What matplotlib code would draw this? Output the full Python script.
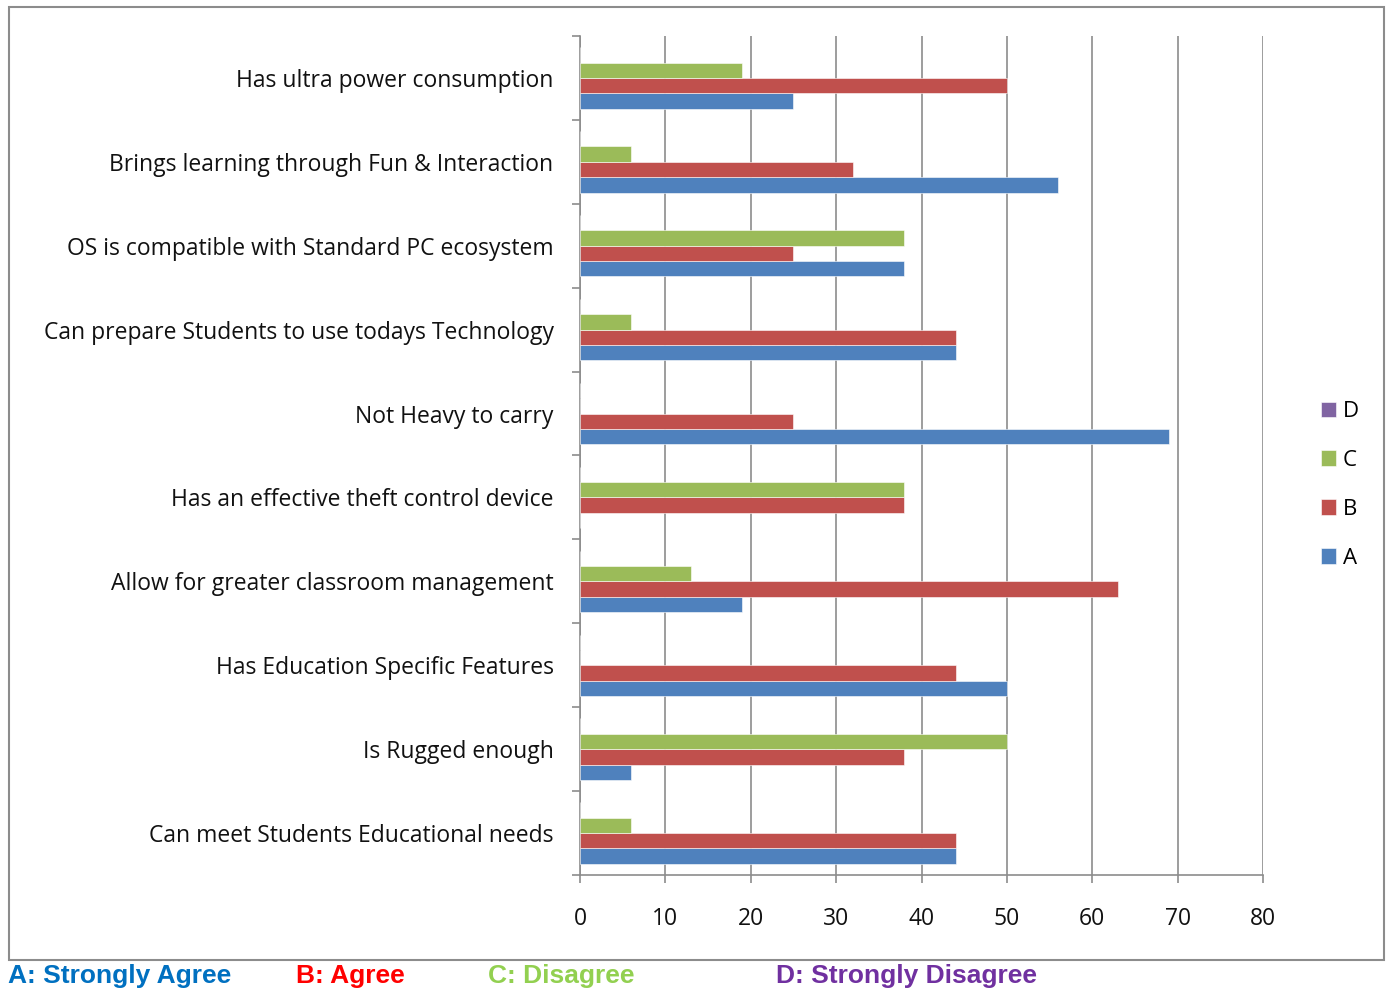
import numpy as np
import matplotlib
matplotlib.use('Agg')
import matplotlib.pyplot as plt
from matplotlib.patches import Rectangle

# categories listed bottom to top (as drawn by barh)
categories = [
    'Can meet Students Educational needs',
    'Is Rugged enough',
    'Has Education Specific Features',
    'Allow for greater classroom management',
    'Has an effective theft control device',
    'Not Heavy to carry',
    'Can prepare Students to use todays Technology',
    'OS is compatible with Standard PC ecosystem',
    'Brings learning through Fun & Interaction',
    'Has ultra power consumption',
]
series_a = [44, 6, 50, 19, 0, 69, 44, 38, 56, 25]
series_b = [44, 38, 44, 63, 38, 25, 44, 25, 32, 50]
series_c = [6, 50, 0, 13, 38, 0, 6, 38, 6, 19]
series_d = [0, 0, 0, 0, 0, 0, 0, 0, 0, 0]
series_names = ['A', 'B', 'C', 'D']
series_colors = ['#4F81BD', '#C0504D', '#9BBB59', '#8064A2']
xticks = [0, 10, 20, 30, 40, 50, 60, 70, 80]

footer = [('A: Strongly Agree', '#0070C0', 8),
          ('B: Agree', '#FF0000', 296),
          ('C: Disagree', '#92D050', 488),
          ('D: Strongly Disagree', '#7030A0', 776)]

W, H = 1390, 993
fig = plt.figure(figsize=(W / 100, H / 100), dpi=100)
fig.patch.set_facecolor('white')

# outer chart frame
fig.patches.append(Rectangle((9 / W, 1 - 960 / H), (1384 - 9) / W, (960 - 7) / H,
                             transform=fig.transFigure, fill=False,
                             edgecolor='#8C8C8C', linewidth=1.5))

ax = fig.add_axes([580 / W, 1 - 875 / H, (1263 - 580) / W, (875 - 36) / H])

y = np.arange(len(categories))
bh = 0.183
all_series = [series_a, series_b, series_c, series_d]
for i, (vals, name, col) in enumerate(zip(all_series, series_names, series_colors)):
    offs = (i - 1.5) * bh
    ax.barh(y + offs, vals, height=bh, color=col, edgecolor='white',
            linewidth=0.4, label=name, zorder=3)

lab_font = 'Open Sans'
ax.set_xlim(0, 80)
ax.set_ylim(-0.5, len(categories) - 0.5)
ax.set_xticks(xticks)
ax.set_yticks(y)
ax.set_yticklabels(categories, fontsize=16.5, family=lab_font, color='#111111')
ax.set_yticks(np.arange(-0.5, len(categories)), minor=True)
ax.tick_params(axis='y', which='major', length=0, pad=19)
ax.tick_params(axis='y', which='minor', length=6, color='#8C8C8C', width=1.2)
ax.tick_params(axis='x', length=6, color='#8C8C8C', width=1.2, pad=17,
               labelsize=16.5, labelcolor='#111111')
for lab in ax.get_xticklabels():
    lab.set_family(lab_font)
ax.grid(axis='x', color='#8C8C8C', linewidth=1.2, zorder=0)
for s in ['top', 'right']:
    ax.spines[s].set_visible(False)
for s in ['left', 'bottom']:
    ax.spines[s].set_color('#8C8C8C')
    ax.spines[s].set_linewidth(1.2)

handles, labels = ax.get_legend_handles_labels()
leg = ax.legend(handles[::-1], labels[::-1], loc='center left',
                bbox_to_anchor=(1.055, 0.465), frameon=False,
                handlelength=0.7, handleheight=0.7, handletextpad=0.3,
                labelspacing=1.25, prop={'family': lab_font, 'size': 16})

for txt, col, xp in footer:
    fig.text(xp / W, 1 - 976 / H, txt, color=col, fontsize=19,
             fontweight='bold', family='Liberation Sans',
             ha='left', va='center')

fig.savefig('out.png', dpi=100)
